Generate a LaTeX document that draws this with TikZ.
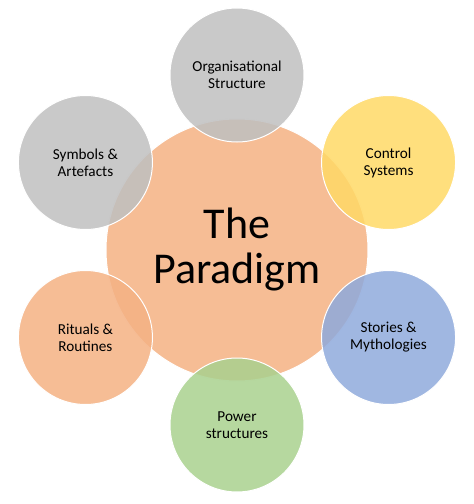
\documentclass[tikz,border=0pt]{standalone}
\usepackage{fontspec}
\setmainfont{Carlito}
\usepackage{tikz}
\usetikzlibrary{positioning, calc}
\definecolor{parorange}{RGB}{244,177,131}
\definecolor{culgray}{RGB}{191,191,191}
\definecolor{culyellow}{RGB}{255,217,102}
\definecolor{culblue}{RGB}{143,170,220}
\definecolor{culgreen}{RGB}{169,209,142}

\begin{document}
\begin{tikzpicture}[
        x=1pt, y=1pt,
        ring/.style={circle, draw=white, line width=1pt, fill opacity=0.85, text opacity=1, minimum size=134pt, inner sep=0pt, align=center, font=\fontsize{15.2}{17}\selectfont},
        core/.style={ring, minimum size=262pt, font=\fontsize{44}{45}\selectfont}
    ]
        \useasboundingbox (-237,-254) rectangle (237,250);
        \node[core, fill=parorange] (par) at (0,0) {The\\Paradigm};
        \node[ring, fill=culgray]   (org) at (90:175pt)  {Organisational\\Structure};
        \node[ring, fill=culyellow] (ctl) at (30:175pt)  {Control\\Systems};
        \node[ring, fill=culblue]   (sto) at (-30:175pt) {Stories \&\\Mythologies};
        \node[ring, fill=culgreen]  (pow) at (-90:175pt) {Power\\structures};
        \node[ring, fill=parorange] (rit) at (210:175pt) {Rituals \&\\Routines};
        \node[ring, fill=culgray]   (sym) at (150:175pt) {Symbols \&\\Artefacts};
    \end{tikzpicture}
\end{document}
